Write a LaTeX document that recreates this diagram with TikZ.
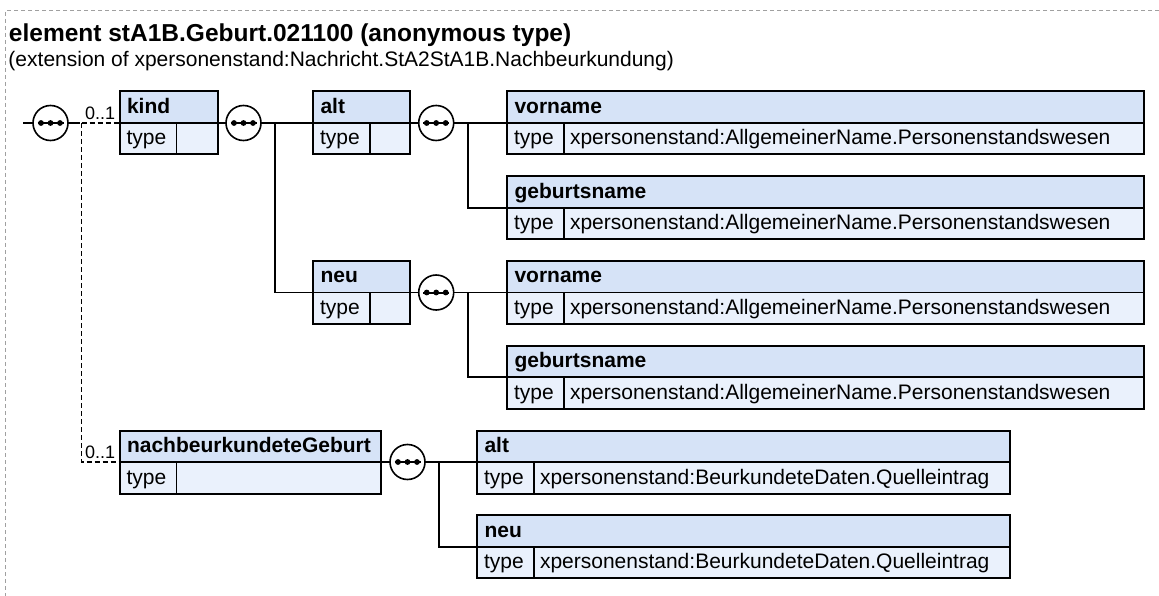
\documentclass[tikz,border=0pt]{standalone}
\usepackage{fontspec}
\setmainfont{Liberation Sans}
\usetikzlibrary{calc}
\definecolor{hdr}{RGB}{214,227,247}
\definecolor{typ}{RGB}{234,241,252}
\definecolor{framegray}{RGB}{160,160,160}
\newcommand\xboxfont{\fontsize{21}{25}\selectfont}
\newcommand\xtitlefont{\fontsize{24.5}{29}\selectfont}
\newcommand\xoccfont{\fontsize{18}{21}\selectfont}
\tikzset{
  boxframe/.style={draw=black, line width=2pt, rectangle, inner sep=0pt, outer sep=0pt},
  inner/.style={black, line width=1.6pt},
  lbl/.style={anchor=base west, inner sep=0pt, outer sep=0pt},
  seq/.style={circle, draw=black, fill=white, line width=1.6pt, minimum size=35pt, inner sep=0pt, outer sep=0pt},
  conn/.style={black, line width=1.6pt},
  opt/.style={black, line width=1.6pt, dash pattern=on 5pt off 3pt},
  borderline/.style={framegray, line width=1pt, dash pattern=on 4pt off 3pt}
}
\newcommand\xbox[6]{% name, x, y(top), width, title, value
  \fill[typ] (#2,#3) rectangle ({#2+#4},{#3+63});
  \fill[hdr] (#2,#3) rectangle ({#2+#4},{#3+31.5});
  \node[boxframe, minimum width=#4pt, minimum height=63pt, anchor=north west] (#1) at (#2,#3) {};
  \draw[inner] (#1.west) -- (#1.east);
  \draw[inner] ({#2+57},{#3+31.5}) -- ({#2+57},{#3+63});
  \node[lbl, font=\xboxfont\bfseries] (#1-h) at ({#2+7.5},{#3+21.8}) {#5};
  \node[lbl, font=\xboxfont] (#1-k) at ({#2+7},{#3+53.5}) {type};
  \if\relax\detokenize{#6}\relax\else
    \node[lbl, font=\xboxfont] (#1-v) at ({#2+63},{#3+53.5}) {#6};
  \fi
}
\newcommand\seqc[3]{% name, x, y
  \node[seq] (#1) at (#2,#3) {};
  \draw[line width=2pt] ({#2-13},#3) -- ({#2+13},#3);
  \fill ({#2-9.5},#3) circle (2.9);
  \fill (#2,#3) circle (2.9);
  \fill ({#2+9.5},#3) circle (2.9);
}
\begin{document}
\begin{tikzpicture}[x=1pt, y=-1pt]
\useasboundingbox (0,0) rectangle (1159,596);
\fill[white] (0,0) rectangle (1159,596);
% frame
\draw[borderline] (1159,11) -- (5,11) -- (5,596);
% title
\node[lbl, font=\xtitlefont\bfseries] (title) at (9,42) {element stA1B.Geburt.021100 (anonymous type)};
\node[lbl, font=\xboxfont] (sub) at (8.5,66.5) {(extension of xpersonenstand:Nachricht.StA2StA1B.Nachbeurkundung)};

% boxes
\xbox{kind}{119.5}{91.5}{98.5}{kind}{}
\xbox{alt}{313}{91.5}{97}{alt}{}
\xbox{vor1}{507}{91.5}{637}{vorname}{xpersonenstand:AllgemeinerName.Personenstandswesen}
\xbox{geb1}{507}{176.25}{637}{geburtsname}{xpersonenstand:AllgemeinerName.Personenstandswesen}
\xbox{neu}{313}{261}{97}{neu}{}
\xbox{vor2}{507}{261}{637}{vorname}{xpersonenstand:AllgemeinerName.Personenstandswesen}
\xbox{geb2}{507}{345.75}{637}{geburtsname}{xpersonenstand:AllgemeinerName.Personenstandswesen}
\xbox{nachb}{119.5}{430.5}{261.5}{nachbeurkundeteGeburt}{}
\xbox{alt2}{477}{430.5}{533}{alt}{xpersonenstand:BeurkundeteDaten.Quelleintrag}
\xbox{neu2}{477}{515.25}{533}{neu}{xpersonenstand:BeurkundeteDaten.Quelleintrag}

% sequence symbols
\seqc{c0}{50.5}{123}
\seqc{c1}{243.5}{123}
\seqc{c2}{436.2}{123}
\seqc{c3}{436.2}{292.5}
\seqc{c4}{407.5}{462}

% connectors
\coordinate (in0) at (23,123);
\coordinate (b0) at (81.5,123);
\coordinate (b1) at (275,123);
\coordinate (b2) at (468,123);
\coordinate (b3) at (468,292.5);
\coordinate (b4) at (439,462);
\draw[conn] (in0) -- (c0.west);
\draw[conn] (c0.east) -- ++(12,0);
\draw[opt] (b0) -- (kind.west);
\draw[opt] (b0) |- (nachb.west);
\draw[conn] (kind.east) -- (c1.west);
\draw[conn] (c1.east) -- (alt.west);
\draw[conn] (b1) |- (neu.west);
\draw[conn] (alt.east) -- (c2.west);
\draw[conn] (c2.east) -- (vor1.west);
\draw[conn] (b2) |- (geb1.west);
\draw[conn] (neu.east) -- (c3.west);
\draw[conn] (c3.east) -- (vor2.west);
\draw[conn] (b3) |- (geb2.west);
\draw[conn] (nachb.east) -- (c4.west);
\draw[conn] (c4.east) -- (alt2.west);
\draw[conn] (b4) |- (neu2.west);

% occurrence labels
\node[lbl, font=\xoccfont] (o1) at (85,120) {0..1};
\node[lbl, font=\xoccfont] (o2) at (85,458.5) {0..1};
\end{tikzpicture}
\end{document}
